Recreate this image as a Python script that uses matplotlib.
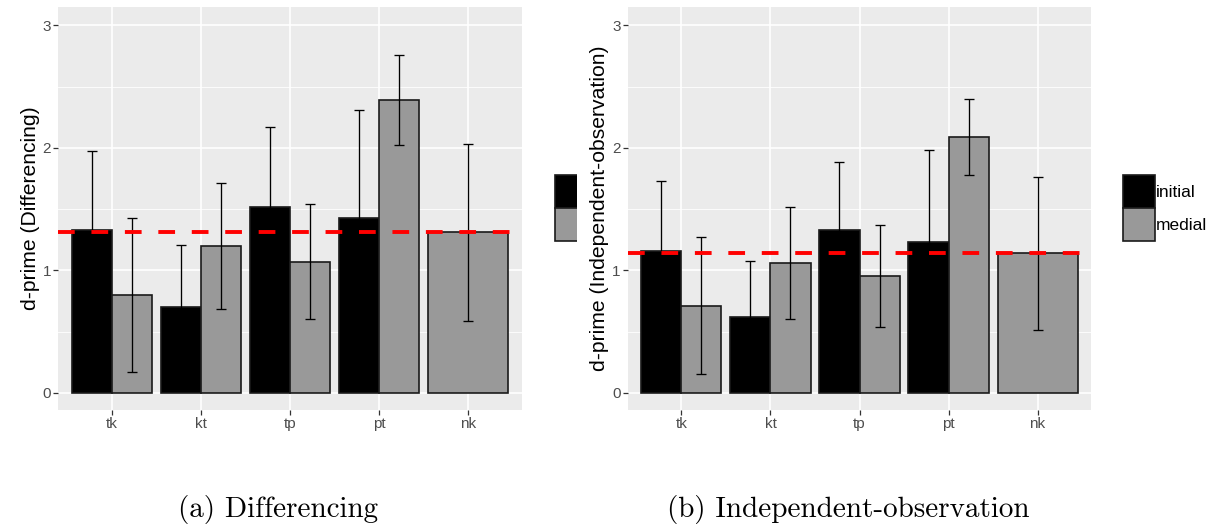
import numpy as np
import matplotlib
matplotlib.use("Agg")
import matplotlib.pyplot as plt
from matplotlib.patches import Patch, Rectangle

categories = ["tk", "kt", "tp", "pt", "nk"]
groups = ["initial", "medial"]

# Differencing
diff_initial = [1.33, 0.70, 1.52, 1.43, np.nan]
diff_initial_err = [0.645, 0.51, 0.65, 0.88, np.nan]
diff_medial = [0.80, 1.20, 1.07, 2.39, 1.31]
diff_medial_err = [0.63, 0.515, 0.47, 0.37, 0.72]
diff_ref = 1.31

# Independent-observation
ind_initial = [1.16, 0.62, 1.33, 1.23, np.nan]
ind_initial_err = [0.57, 0.46, 0.555, 0.75, np.nan]
ind_medial = [0.71, 1.06, 0.955, 2.085, 1.14]
ind_medial_err = [0.56, 0.46, 0.414, 0.31, 0.625]
ind_ref = 1.14

yticks = [0, 1, 2, 3]
captions = ["(a) Differencing", "(b) Independent-observation"]
ylabels = ["d-prime (Differencing)", "d-prime (Independent-observation)"]

W, H = 1218, 527
plt.rcParams['font.family'] = ['Liberation Sans', 'DejaVu Sans']
fig = plt.figure(figsize=(W / 100, H / 100), dpi=100)

BG = "#EBEBEB"
MED = "#999999"
EDGE = "#1a1a1a"


def draw_panel(ax, init, init_err, med, med_err, ref, ylabel):
    ax.set_facecolor(BG)
    for s in ax.spines.values():
        s.set_visible(False)
    ax.set_xlim(0.4, len(categories) + 0.6)
    ax.set_ylim(-0.14, 3.15)
    ax.set_yticks(yticks)
    ax.set_yticks([0.5, 1.5, 2.5], minor=True)
    ax.set_xticks(np.arange(1, len(categories) + 1))
    ax.set_xticklabels(categories)
    ax.grid(True, which='major', color='white', lw=1.2, zorder=0)
    ax.grid(True, which='minor', axis='y', color='white', lw=0.6, zorder=0)
    ax.set_axisbelow(True)
    ax.tick_params(which='major', length=3.3, width=0.9, color='#333333',
                   labelcolor='#4D4D4D', labelsize=11, pad=2)
    ax.tick_params(which='minor', length=0)
    total = 0.9
    for i, cat in enumerate(categories):
        xc = i + 1
        vals = [(init[i], init_err[i], 'black'), (med[i], med_err[i], MED)]
        present = [v for v in vals if not np.isnan(v[0])]
        n = len(present)
        w = total / n
        for j, (v, e, c) in enumerate(present):
            x = xc - total / 2 + w * (j + 0.5)
            ax.bar(x, v, width=w, color=c, edgecolor=EDGE, linewidth=1.2, zorder=2)
            ax.errorbar(x, v, yerr=e, fmt='none', ecolor='black',
                        elinewidth=0.95, capsize=3.3, capthick=0.95, zorder=3)
    ax.axhline(ref, color='#FF0000', lw=2.8, dashes=(4.3, 4.3), zorder=4)
    ax.set_ylabel(ylabel, fontsize=15.2, color='black', labelpad=2)


LEG_FS = 12.5
leg_kw = dict(loc='upper left', bbox_transform=fig.transFigure, frameon=False,
              fontsize=LEG_FS, handlelength=1.84, handleheight=2.55,
              labelspacing=0.0, handletextpad=0.05, borderpad=0, borderaxespad=0)

ax1 = fig.add_axes([58.5 / W, 1 - 410 / H, (521.7 - 58.5) / W, (410 - 7) / H])
draw_panel(ax1, diff_initial, diff_initial_err, diff_medial, diff_medial_err,
           diff_ref, ylabels[0])
handles = [Patch(facecolor='black', edgecolor=EDGE, lw=1.2),
           Patch(facecolor=MED, edgecolor=EDGE, lw=1.2)]
# legend of panel (a) is cut off by panel (b) in the reference: only the keys show
ax1.legend(handles, ["", ""], bbox_to_anchor=(555 / W, 1 - 175 / H), **leg_kw)
ax1.set_zorder(0)

# white background of the right subfigure, covering the cut-off legend
fig.patches.append(Rectangle((577 / W, 0), 1 - 577 / W, 1, transform=fig.transFigure,
                             facecolor='white', edgecolor='none', zorder=0.5))

ax2 = fig.add_axes([628 / W, 1 - 410 / H, (1091 - 628) / W, (410 - 7) / H])
draw_panel(ax2, ind_initial, ind_initial_err, ind_medial, ind_medial_err,
           ind_ref, ylabels[1])
ax2.set_zorder(1)
handles2 = [Patch(facecolor='black', edgecolor=EDGE, lw=1.2),
            Patch(facecolor=MED, edgecolor=EDGE, lw=1.2)]
ax2.legend(handles2, groups, bbox_to_anchor=(1123 / W, 1 - 175 / H), **leg_kw)

fig.text(278.5 / W, 1 - 510 / H, captions[0], family='cmr10', fontsize=21,
         ha='center', va='center')
fig.text(848 / W, 1 - 510 / H, captions[1], family='cmr10', fontsize=21,
         ha='center', va='center')

fig.savefig("out.png", dpi=100)
